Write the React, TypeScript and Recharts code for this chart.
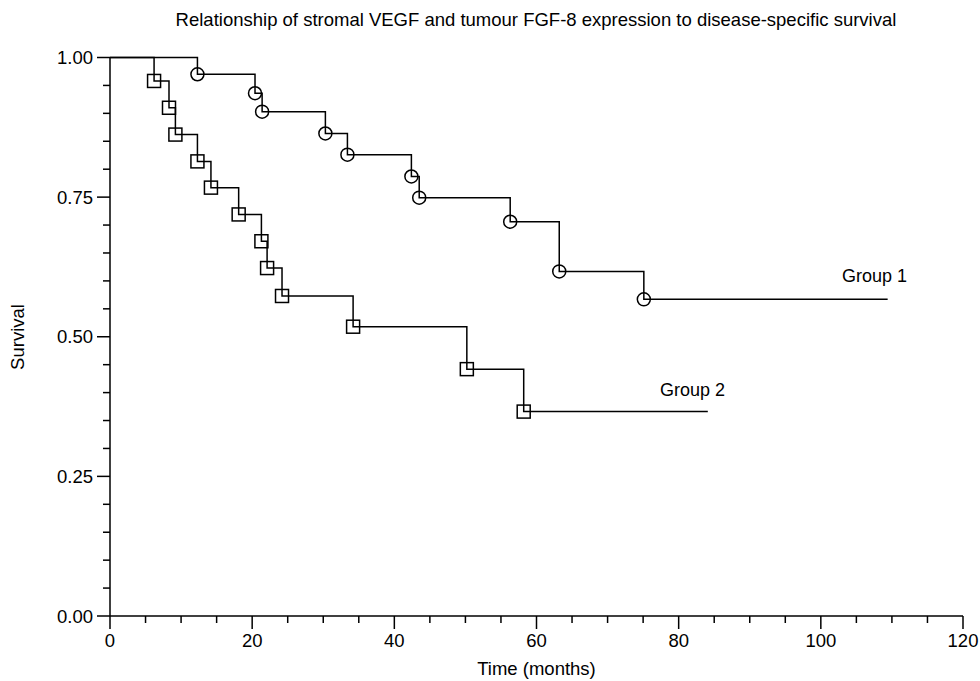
import React from "react";
import { LineChart, Line, XAxis, YAxis } from "recharts";

// ---- Data ----
const group1Times = [0, 12.3, 20.4, 21.4, 30.3, 33.4, 42.4, 43.5, 56.3, 63.2, 75.1, 109.4];
const group1Survival = [1.0, 0.97, 0.936, 0.903, 0.864, 0.826, 0.787, 0.749, 0.706, 0.617, 0.567, 0.567];

const group2Times = [0, 6.2, 8.3, 9.2, 12.3, 14.2, 18.1, 21.3, 22.1, 24.2, 34.2, 50.2, 58.2, 84.1];
const group2Survival = [1.0, 0.958, 0.91, 0.862, 0.814, 0.767, 0.719, 0.671, 0.623, 0.573, 0.518, 0.442, 0.366, 0.366];

const xTicks = [0, 5, 10, 15, 20, 25, 30, 35, 40, 45, 50, 55, 60, 65, 70, 75, 80, 85, 90, 95, 100, 105, 110, 115, 120];
const xMajorTicks = [0, 20, 40, 60, 80, 100, 120];
const yTicks = [0, 0.05, 0.1, 0.15, 0.2, 0.25, 0.3, 0.35, 0.4, 0.45, 0.5, 0.55, 0.6, 0.65, 0.7, 0.75, 0.8, 0.85, 0.9, 0.95, 1];
const yMajorTicks = [0, 0.25, 0.5, 0.75, 1];

const titleText = "Relationship of stromal VEGF and tumour FGF-8 expression to disease-specific survival";
const xAxisTitle = "Time (months)";
const yAxisTitle = "Survival";
const group1Label = "Group 1";
const group2Label = "Group 2";

const FONT = "'Liberation Sans', Arial, Helvetica, sans-serif";
const INK = "#000";

const buildSeries = (times: number[], surv: number[]) =>
  times.map((t, i) => ({ t, s: surv[i], mark: i > 0 && i < times.length - 1 }));

const group1Data = buildSeries(group1Times, group1Survival);
const group2Data = buildSeries(group2Times, group2Survival);

const CircleDot = (props: any) => {
  const { cx, cy, payload, index } = props;
  if (!payload || !payload.mark) return <g key={`c-${index}`} />;
  return <circle key={`c-${index}`} cx={cx} cy={cy} r={6.5} fill="none" stroke={INK} strokeWidth={1.5} />;
};

const SquareDot = (props: any) => {
  const { cx, cy, payload, index } = props;
  if (!payload || !payload.mark) return <g key={`q-${index}`} />;
  return (
    <rect key={`q-${index}`} x={cx - 6.5} y={cy - 6.5} width={13} height={13} fill="none" stroke={INK} strokeWidth={1.5} />
  );
};

const XTick = (props: any) => {
  const { x, y, payload } = props;
  const v = payload.value;
  const major = xMajorTicks.includes(v);
  return (
    <g>
      <line x1={x} y1={y} x2={x} y2={y + (major ? 13 : 7)} stroke={INK} strokeWidth={1.5} />
      {major && (
        <text x={x} y={y + 31} textAnchor="middle" fontFamily={FONT} fontSize={18.5} fill={INK}>
          {v}
        </text>
      )}
    </g>
  );
};

const YTick = (props: any) => {
  const { x, y, payload } = props;
  const v = payload.value;
  const major = yMajorTicks.some((m) => Math.abs(m - v) < 1e-6);
  return (
    <g>
      <line x1={x - (major ? 13 : 7)} y1={y} x2={x} y2={y} stroke={INK} strokeWidth={1.5} />
      {major && (
        <text x={x - 17} y={y + 6.5} textAnchor="end" fontFamily={FONT} fontSize={18.5} fill={INK}>
          {v.toFixed(2)}
        </text>
      )}
    </g>
  );
};

export default function App() {
  return (
    <div style={{ position: "absolute", left: 0, top: 0, width: 980, height: 681, background: "#fff" }}>
      <LineChart
        width={980}
        height={681}
        margin={{ top: 57.5, right: 17, bottom: 35, left: 50 }}
        style={{ fontFamily: FONT }}
      >
        <XAxis
          dataKey="t"
          type="number"
          domain={[0, 120]}
          ticks={xTicks}
          interval={0}
          tickSize={0}
          tickMargin={0}
          height={30}
          axisLine={{ stroke: INK, strokeWidth: 1.5 }}
          tickLine={false}
          tick={<XTick />}
        />
        <YAxis
          type="number"
          domain={[0, 1]}
          ticks={yTicks}
          interval={0}
          tickSize={0}
          tickMargin={0}
          width={60}
          axisLine={{ stroke: INK, strokeWidth: 1.5 }}
          tickLine={false}
          tick={<YTick />}
        />
        <Line
          data={group1Data}
          dataKey="s"
          type="stepAfter"
          stroke={INK}
          strokeWidth={1.5}
          dot={CircleDot}
          activeDot={false}
          isAnimationActive={false}
        />
        <Line
          data={group2Data}
          dataKey="s"
          type="stepAfter"
          stroke={INK}
          strokeWidth={1.5}
          dot={SquareDot}
          activeDot={false}
          isAnimationActive={false}
        />
      </LineChart>
      <svg
        width={980}
        height={681}
        style={{ position: "absolute", left: 0, top: 0, pointerEvents: "none" }}
      >
        <text x={536} y={26} textAnchor="middle" fontFamily={FONT} fontSize={18.5} fill={INK}>
          {titleText}
        </text>
        <text x={536.5} y={675} textAnchor="middle" fontFamily={FONT} fontSize={18.5} fill={INK}>
          {xAxisTitle}
        </text>
        <text
          x={24}
          y={337}
          textAnchor="middle"
          fontFamily={FONT}
          fontSize={18.5}
          fill={INK}
          transform="rotate(-90 24 337)"
        >
          {yAxisTitle}
        </text>
        <text x={842} y={282} fontFamily={FONT} fontSize={18} fill={INK}>
          {group1Label}
        </text>
        <text x={660} y={396} fontFamily={FONT} fontSize={18} fill={INK}>
          {group2Label}
        </text>
      </svg>
    </div>
  );
}
